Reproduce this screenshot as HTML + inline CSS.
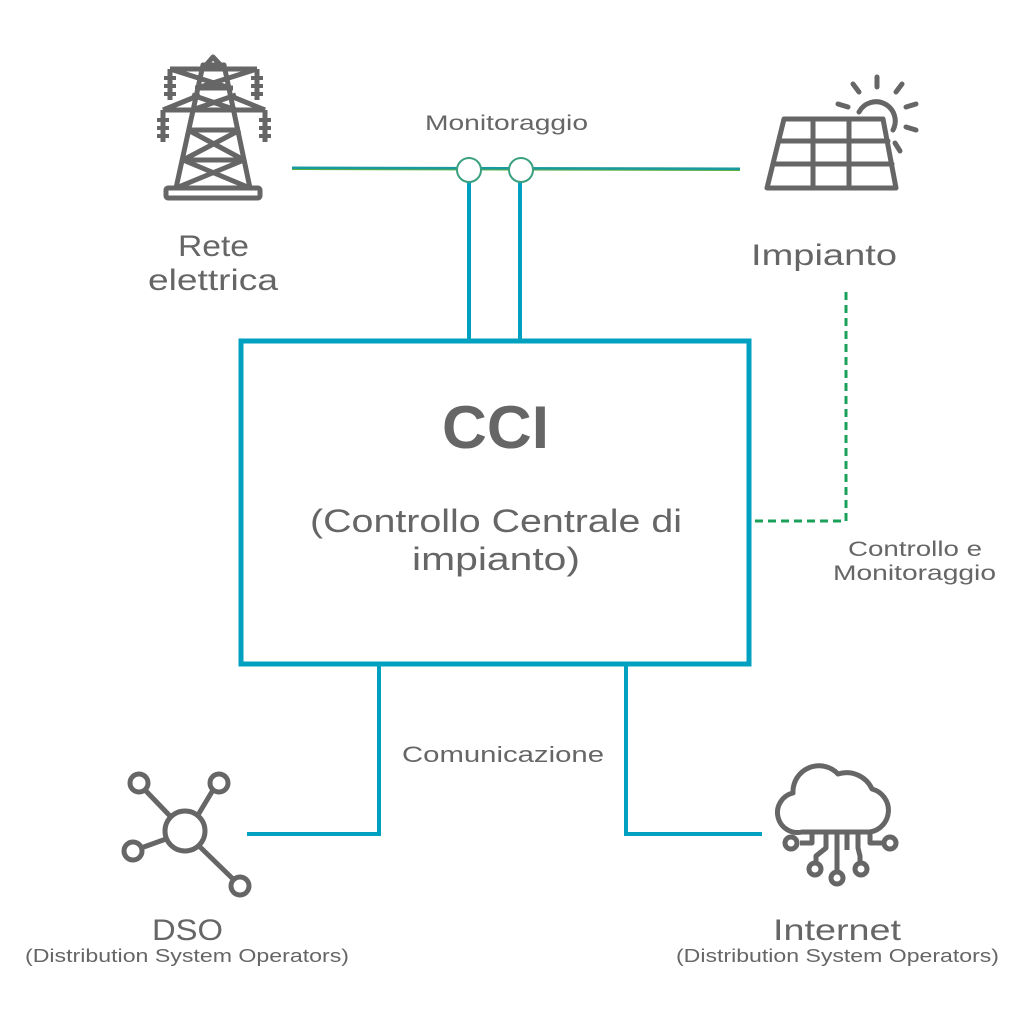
<!DOCTYPE html>
<html><head><meta charset="utf-8"><style>
html,body{margin:0;padding:0;background:#fff}
svg{display:block}
text{font-family:"Liberation Sans",sans-serif;fill:#666}
</style></head><body>
<svg width="1024" height="1024" viewBox="0 0 1024 1024">
<line x1="292" y1="168" x2="740" y2="169" stroke="#1a9aa0" stroke-width="3"/>
<line x1="292" y1="169.5" x2="740" y2="170.5" stroke="#5ab040" stroke-width="1"/>
<line x1="469" y1="180" x2="469" y2="340" stroke="#00a0c0" stroke-width="4"/>
<line x1="520" y1="180" x2="520" y2="340" stroke="#00a0c0" stroke-width="4"/>
<circle cx="469" cy="170" r="12" fill="#fff" stroke="#3aa080" stroke-width="2"/>
<circle cx="521" cy="170" r="12" fill="#fff" stroke="#3aa080" stroke-width="2"/>
<text x="425" y="130" font-size="21" textLength="163" lengthAdjust="spacingAndGlyphs">Monitoraggio</text>
<rect x="241" y="341" width="508" height="323" fill="none" stroke="#00a0c0" stroke-width="5"/>
<text x="442" y="448" font-size="60" font-weight="bold" textLength="107" lengthAdjust="spacingAndGlyphs">CCI</text>
<text x="310" y="532" font-size="32" textLength="372" lengthAdjust="spacingAndGlyphs">(Controllo Centrale di</text>
<text x="412" y="570" font-size="32" textLength="168" lengthAdjust="spacingAndGlyphs">impianto)</text>
<polyline points="846,292 846,521 752,521" fill="none" stroke="#1aa05a" stroke-width="3" stroke-dasharray="8,5"/>
<text x="848" y="556" font-size="21" textLength="134" lengthAdjust="spacingAndGlyphs">Controllo e</text>
<text x="833" y="580" font-size="21" textLength="163" lengthAdjust="spacingAndGlyphs">Monitoraggio</text>
<polyline points="379,665 379,834 247,834" fill="none" stroke="#00a0c0" stroke-width="4"/>
<polyline points="626,665 626,834 762,834" fill="none" stroke="#00a0c0" stroke-width="4"/>
<text x="402" y="762" font-size="22" textLength="202" lengthAdjust="spacingAndGlyphs">Comunicazione</text>
<text x="178" y="256" font-size="30" textLength="71" lengthAdjust="spacingAndGlyphs">Rete</text>
<text x="148" y="290" font-size="30" textLength="130" lengthAdjust="spacingAndGlyphs">elettrica</text>
<text x="751" y="265" font-size="30" textLength="146" lengthAdjust="spacingAndGlyphs">Impianto</text>
<text x="152" y="940" font-size="30" textLength="71" lengthAdjust="spacingAndGlyphs">DSO</text>
<text x="25" y="962" font-size="18" textLength="324" lengthAdjust="spacingAndGlyphs">(Distribution System Operators)</text>
<text x="773" y="940" font-size="30" textLength="128" lengthAdjust="spacingAndGlyphs">Internet</text>
<text x="676" y="962" font-size="18" textLength="323" lengthAdjust="spacingAndGlyphs">(Distribution System Operators)</text>
<g fill="none" stroke="#666" stroke-width="5" stroke-linejoin="round">
<rect x="166" y="188" width="94" height="10" rx="2"/>
<polyline points="176,188 203,65 224,65 250,188"/>
<polyline points="200,72 213,57 227,72"/>
<line x1="170" y1="69" x2="257" y2="69"/>
<line x1="163" y1="110" x2="265" y2="110"/>
<line x1="195" y1="88" x2="233" y2="88"/>
<line x1="192" y1="110" x2="236" y2="95"/><line x1="192" y1="95" x2="236" y2="110"/>
<line x1="170" y1="69" x2="230" y2="88"/><line x1="257" y1="69" x2="197" y2="88"/>
<line x1="163" y1="110" x2="200" y2="95"/><line x1="265" y1="110" x2="228" y2="95"/>
<line x1="188" y1="130" x2="240" y2="130"/>
<line x1="188" y1="130" x2="244" y2="160"/><line x1="240" y1="130" x2="183" y2="160"/>
<line x1="183" y1="160" x2="244" y2="160"/>
<line x1="183" y1="160" x2="250" y2="188"/><line x1="244" y1="160" x2="176" y2="188"/>
<line x1="170" y1="69" x2="170" y2="100"/><line x1="257" y1="69" x2="257" y2="100"/>
<line x1="163" y1="110" x2="163" y2="142"/><line x1="265" y1="110" x2="265" y2="142"/>
</g>
<g stroke="#666" stroke-width="4">
<line x1="164" y1="78" x2="176" y2="78"/><line x1="164" y1="86" x2="176" y2="86"/><line x1="164" y1="94" x2="176" y2="94"/>
<line x1="251" y1="78" x2="263" y2="78"/><line x1="251" y1="86" x2="263" y2="86"/><line x1="251" y1="94" x2="263" y2="94"/>
<line x1="157" y1="120" x2="169" y2="120"/><line x1="157" y1="128" x2="169" y2="128"/><line x1="157" y1="136" x2="169" y2="136"/>
<line x1="259" y1="120" x2="271" y2="120"/><line x1="259" y1="128" x2="271" y2="128"/><line x1="259" y1="136" x2="271" y2="136"/>
</g>
<g fill="none" stroke="#666" stroke-width="5" stroke-linecap="round" stroke-linejoin="round">
<polygon points="784,119 883,119 896,188 767,188"/>
<line x1="779" y1="141" x2="888" y2="141"/>
<line x1="774" y1="164" x2="892" y2="164"/>
<line x1="813" y1="119" x2="813" y2="188"/>
<line x1="849" y1="119" x2="849" y2="188"/>
<path d="M859,112 A18,18 0 1 1 893,130"/>
<line x1="877" y1="77" x2="877" y2="87"/>
<line x1="853" y1="84" x2="859" y2="92"/>
<line x1="902" y1="84" x2="896" y2="92"/>
<line x1="838" y1="104" x2="848" y2="107"/>
<line x1="916" y1="104" x2="906" y2="107"/>
<line x1="916" y1="130" x2="906" y2="127"/>
<line x1="900" y1="151" x2="895" y2="143"/>
</g>
<g fill="none" stroke="#666" stroke-width="5">
<circle cx="185" cy="831" r="20"/>
<circle cx="139" cy="783" r="9"/><circle cx="219" cy="783" r="9"/>
<circle cx="133" cy="851" r="9"/><circle cx="240" cy="886" r="9"/>
<line x1="145" y1="790" x2="170" y2="816"/>
<line x1="213" y1="790" x2="198" y2="815"/>
<line x1="141" y1="848" x2="166" y2="839"/>
<line x1="199" y1="846" x2="233" y2="879"/>
</g>
<g fill="none" stroke="#666" stroke-width="5" stroke-linejoin="round">
<path d="M802,832 L870,832 A22,22 0 0 0 872,789 A28,28 0 0 0 838,774 A26,26 0 0 0 793,793 A20,20 0 0 0 802,832 Z"/>
<polyline points="800,843 812,843 812,832"/>
<polyline points="870,832 870,843 882,843"/>
<polyline points="826,832 826,848 816,856 816,862"/>
<polyline points="858,832 858,848 860,856 860,862"/>
<line x1="837" y1="832" x2="837" y2="870"/>
<polyline points="847,832 847,850"/>
<circle cx="791" cy="843" r="6"/><circle cx="890" cy="843" r="6"/>
<circle cx="815" cy="869" r="6"/><circle cx="861" cy="869" r="6"/>
<circle cx="837" cy="878" r="6"/>
</g>
</svg>
</body></html>
